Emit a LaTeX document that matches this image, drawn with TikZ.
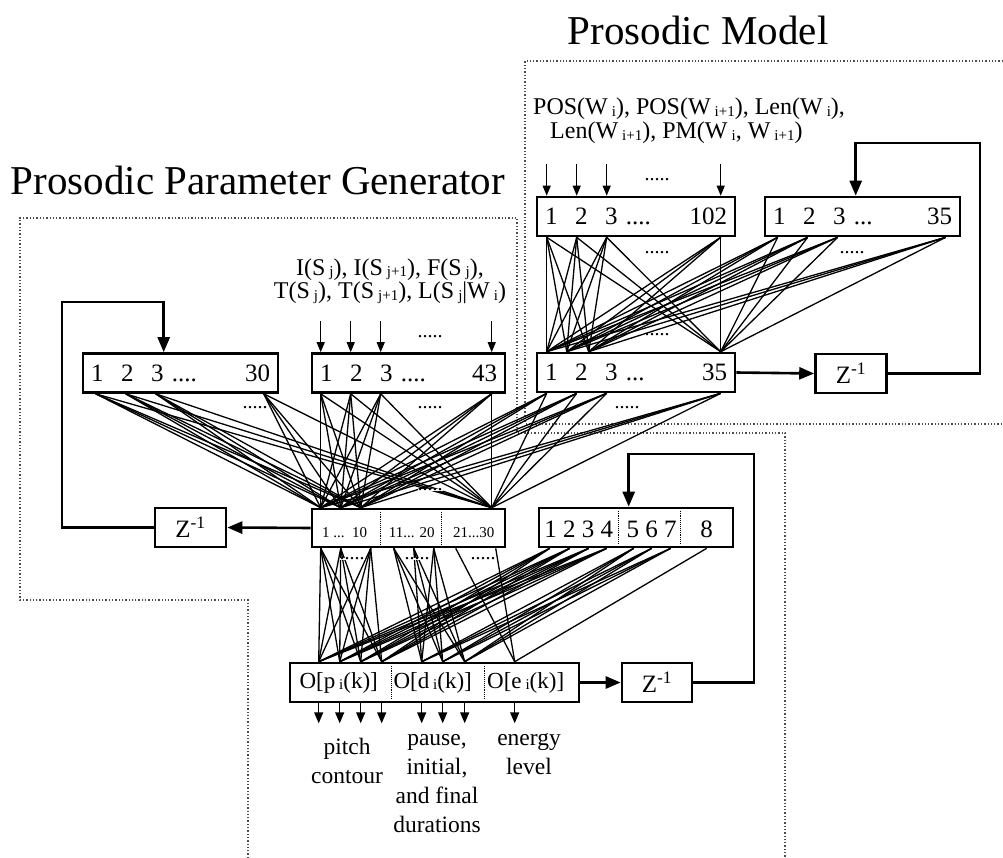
\documentclass[tikz,border=0pt]{standalone}
\usepackage{fontspec}
\setmainfont{Liberation Serif}
\usetikzlibrary{arrows.meta,calc}

\newcommand{\sbs}[1]{\,\raisebox{-0.15ex}{\fontsize{15}{15}\selectfont #1}}
\newcommand{\gp}{\hspace{17.5pt}}
% every source to every target, offsets along the box edges
\newcommand{\wire}[4]{\foreach \s in {#2}{\foreach \t in {#4}{%
  \draw[link] ($(#1.south west)+(\s,0)$) -- ($(#3.north west)+(\t,0)$);}}}

\tikzset{
  nbox/.style={draw, line width=2.6pt, inner sep=0pt, minimum height=39pt, fill=white,
    font=\fontsize{25}{25}\selectfont},
  zbox/.style={nbox, minimum width=71pt},
  link/.style={line width=1.3pt},
  inarrow/.style={line width=1.1pt, -{Triangle[length=10pt,width=8pt]}},
  outarrow/.style={line width=1.4pt, -{Triangle[length=11pt,width=9pt]}},
  fbarrow/.style={line width=2.6pt, -{Triangle[length=15pt,width=12pt]}},
  region/.style={dotted, line width=1.3pt, black!70},
  sep/.style={densely dotted, line width=0.9pt},
  title/.style={anchor=base, inner sep=0pt, font=\fontsize{41}{41}\selectfont},
  intxt/.style={inner sep=0pt, font=\fontsize{24}{24}\selectfont},
  caption/.style={anchor=base, align=center, inner sep=0pt, font=\fontsize{23.5}{29}\selectfont},
  dots/.style={inner sep=0pt, font=\fontsize{20}{20}\selectfont},
  small/.style={inner sep=0pt, font=\fontsize{15}{15}\selectfont},
  otxt/.style={inner sep=0pt, font=\fontsize{23}{23}\selectfont},
}

\begin{document}
\begin{tikzpicture}[x=1pt,y=-1pt]
\useasboundingbox (0,0) rectangle (1003,858);

% dotted regions
\draw[region] (1003,61) -- (525,61) -- (525,424) -- (1003,424);
\draw[region] (248,858) -- (248,600) -- (20,600) -- (20,218) -- (517,218)
  -- (517,433) -- (785,433) -- (785,858);

\node[title] (pmtitle) at (698,45) {Prosodic Model};
\node[title] (ppgtitle) at (258,195) {Prosodic Parameter Generator};

% prosodic model
\node[nbox, minimum width=198pt, text width=182pt] (in102) at (636,216.5) {1\gp 2\gp 3 ....\hfill 102};
\node[nbox, minimum width=195pt, text width=179pt] (ctx35) at (862.5,216.5) {1\gp 2\gp 3 ...\hfill 35};
\node[nbox, minimum width=198pt, text width=182pt] (hid35) at (636,372.5) {1\gp 2\gp 3 ...\hfill 35};
\node[zbox] (zpm) at (851,373.5) {Z\textsuperscript{-1}};

\node[intxt, anchor=base west, align=left] (pmin) at (533,139)
  {\fontsize{24}{23}\selectfont POS(W\sbs{i}), POS(W\sbs{i+1}), Len(W\sbs{i}),\\
   \hspace{17pt}Len(W\sbs{i+1}), PM(W\sbs{i}, W\sbs{i+1})};
\foreach \o in {11,41,71,185}
  \draw[inarrow] ($(in102.north west)+(\o,-32)$) -- ($(in102.north west)+(\o,0)$);
\node[dots] at (657,180) {.....};

\wire{in102}{11,41,71,185}{hid35}{11,31,53,185}
\wire{ctx35}{14,44,74,182}{hid35}{11,31,53,185}
\node[dots, fill=white] at (657,253) {.....};
\node[dots, fill=white] at (657,335) {.....};
\node[dots, fill=white] at (852,253) {.....};

\coordinate (pmloop) at (980,143);
\draw[fbarrow] (hid35.east) -- (zpm.west);
\draw[fbarrow] (zpm.east) -| (pmloop) -| ($(ctx35.north west)+(92,0)$);

% prosodic parameter generator
\node[nbox, minimum width=195pt, text width=179pt] (ctx30) at (180.5,373) {1\gp 2\gp 3 ....\hfill 30};
\node[nbox, minimum width=193pt, text width=177pt] (in43) at (408.5,373) {1\gp 2\gp 3 ....\hfill 43};
\node[nbox, minimum width=193pt, minimum height=38pt] (hid30) at (408.5,528) {};
\node[zbox] (zppg) at (190.5,527.5) {Z\textsuperscript{-1}};
\node[nbox, minimum width=194pt] (ctx8) at (636,527.5) {};

\node[intxt, anchor=base, align=center] (ppgin) at (390,299)
  {\fontsize{24}{25}\selectfont I(S\sbs{j}), I(S\sbs{j+1}), F(S\sbs{j}),\\
   T(S\sbs{j}), T(S\sbs{j+1}), L(S\sbs{j}|W\sbs{i})};
\foreach \o in {10,40,70,181}
  \draw[inarrow] ($(in43.north west)+(\o,-31)$) -- ($(in43.north west)+(\o,0)$);
\node[dots] at (430,337) {.....};

\wire{ctx30}{14,44,74,182}{hid30}{10,30,50,181}
\wire{in43}{10,40,70,181}{hid30}{10,30,50,181}
\wire{hid35}{11,41,71,185}{hid30}{10,30,50,181}
\node[dots, fill=white] at (255,408) {.....};
\node[dots, fill=white] at (430,408) {.....};
\node[dots, fill=white] at (627,408) {.....};
\node[dots, fill=white] at (430,490) {.....};

\node[small] (h1) at ($(hid30.west)+(34,5)$) {1 ...\ \ 10};
\node[small] (h2) at ($(hid30.west)+(101,5)$) {11... 20};
\node[small] (h3) at ($(hid30.west)+(163,5)$) {21...30};
\foreach \o in {70,131}
  \draw[sep] ($(hid30.north west)+(\o,4)$) -- ($(hid30.south west)+(\o,-4)$);

\node[inner sep=0pt, font=\fontsize{25}{25}\selectfont] (c1) at ($(ctx8.west)+(41,2)$) {1 2 3 4};
\node[inner sep=0pt, font=\fontsize{25}{25}\selectfont] (c2) at ($(ctx8.west)+(114,2)$) {5 6 7};
\node[inner sep=0pt, font=\fontsize{25}{25}\selectfont] (c3) at ($(ctx8.west)+(169,2)$) {8};
\foreach \o in {81,143}
  \draw[sep] ($(ctx8.north west)+(\o,4)$) -- ($(ctx8.south west)+(\o,-4)$);

\coordinate (ppgloop) at (62,302);
\draw[fbarrow] (hid30.west) -- (zppg.east);
\draw[fbarrow] (zppg.west) -| (ppgloop) -| ($(ctx30.north west)+(82,0)$);

% output layer
\node[nbox, minimum width=289pt] (out) at (434.5,682.5) {};
\node[zbox, minimum width=70pt] (zout) at (657,682.5) {Z\textsuperscript{-1}};
\node[otxt] (op) at ($(out.west)+(50,0)$) {O[p\sbs{i}(k)]};
\node[otxt] (od) at ($(out.west)+(144,0)$) {O[d\sbs{i}(k)]};
\node[otxt] (oe) at ($(out.west)+(237,0)$) {O[e\sbs{i}(k)]};
\foreach \o in {103,196}
  \draw[sep] ($(out.north west)+(\o,4)$) -- ($(out.south west)+(\o,-4)$);

\wire{hid30}{10,30,60}{out}{30,51,72,93}
\wire{hid30}{83,103,123}{out}{133,154,176}
\wire{hid30}{145,185}{out}{226}
\wire{ctx8}{12,32,51,69}{out}{30,51,72,93}
\wire{ctx8}{96,114,133}{out}{133,154,176}
\wire{ctx8}{169}{out}{226}
\node[dots, fill=white] at (352,559) {.....};
\node[dots, fill=white] at (417,559) {.....};
\node[dots, fill=white] at (483,559) {.....};

\coordinate (outloop) at (754,454);
\draw[fbarrow] (out.east) -- (zout.west);
\draw[fbarrow] (zout.east) -| (outloop) -| ($(ctx8.north west)+(91,0)$);

\foreach \o in {30,51,72,93,133,154,176,226}
  \draw[outarrow] ($(out.south west)+(\o,0)$) -- ($(out.south west)+(\o,20)$);
\node[caption] (pitch) at (347,783) {pitch\\contour};
\node[caption] (pause) at (437,832) {pause,\\initial,\\and final\\durations};
\node[caption] (energy) at (529,774) {energy\\level};
\end{tikzpicture}
\end{document}
